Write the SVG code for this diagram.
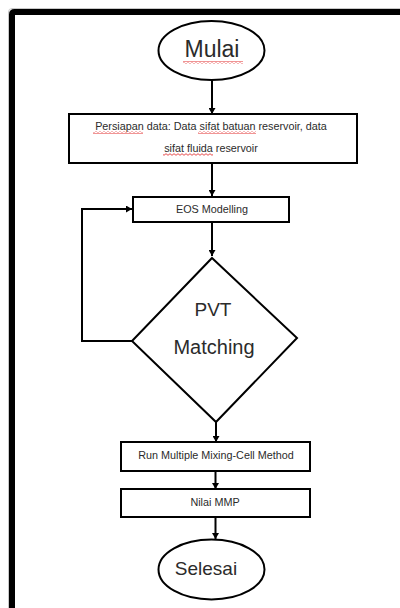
<svg xmlns="http://www.w3.org/2000/svg" width="400" height="608" viewBox="0 0 400 608">
<defs>
<style>
.shape{fill:#fff;stroke:#000;stroke-width:2}
.conn{fill:none;stroke:#000;stroke-width:2}
.big{font-family:"Liberation Sans",Arial,sans-serif;fill:#2b2b2b;text-anchor:middle}
.small{font-family:"Liberation Sans",Arial,sans-serif;font-size:10.8px;fill:#2b2b2b;text-anchor:middle}
</style>
<marker id="ah" markerUnits="userSpaceOnUse" markerWidth="7" markerHeight="7" refX="6" refY="3.5" orient="auto">
<path d="M0,0 L6,3.5 L0,7 z" fill="#000"/>
</marker>
<pattern id="wave" patternUnits="userSpaceOnUse" width="4" height="3">
<path d="M0,2.3 L2,0.7 L4,2.3" fill="none" stroke="#e02020" stroke-width="0.8"/>
</pattern>
</defs>
<rect width="400" height="608" fill="#fff"/>
<g id="frame">
<path d="M8.5,608 V12 Q8.5,8.5 12,8.5 H400" fill="none" stroke="#c8c8c8" stroke-width="1"/>
<path d="M12,608 V14.5 Q12,12 14.5,12 H400" fill="none" stroke="#000" stroke-width="6"/>
</g>
<g id="connectors">
<line class="conn" x1="212" y1="80" x2="212" y2="114" marker-end="url(#ah)"/>
<line class="conn" x1="212" y1="163" x2="212" y2="196" marker-end="url(#ah)"/>
<line class="conn" x1="212" y1="222" x2="212" y2="256" marker-end="url(#ah)"/>
<path class="conn" d="M132,341 H82 V209 H132" marker-end="url(#ah)"/>
<line class="conn" x1="216" y1="422" x2="216" y2="442" marker-end="url(#ah)"/>
<line class="conn" x1="215.5" y1="471" x2="215.5" y2="489" marker-end="url(#ah)"/>
<line class="conn" x1="215.5" y1="517" x2="215.5" y2="539" marker-end="url(#ah)"/>
</g>
<g id="mulai">
<ellipse class="shape" cx="211.5" cy="50.5" rx="53" ry="29.5"/>
<text class="big" x="212" y="56.5" font-size="23">Mulai</text>
<rect x="183" y="61" width="60" height="3" fill="url(#wave)"/>
</g>
<g id="persiapan">
<rect class="shape" x="69" y="114" width="288" height="49"/>
<text class="small" x="211" y="129.5">Persiapan data: Data sifat batuan reservoir, data</text>
<text class="small" x="211" y="151.5">sifat fluida reservoir</text>
<rect x="93" y="131" width="50" height="3" fill="url(#wave)"/>
<rect x="198" y="131" width="58" height="3" fill="url(#wave)"/>
<rect x="163" y="153" width="50" height="3" fill="url(#wave)"/>
</g>
<g id="eos">
<rect class="shape" x="133" y="197" width="156" height="25"/>
<text class="small" x="212" y="212.5">EOS Modelling</text>
</g>
<g id="pvt">
<path class="shape" d="M212,258 L297,338 L216,422 L132,341 Z"/>
<text class="big" x="213" y="315.5" font-size="19">PVT</text>
<text class="big" x="214" y="353.5" font-size="20">Matching</text>
</g>
<g id="run">
<rect class="shape" x="121" y="442" width="189" height="29"/>
<text class="small" x="216" y="458.5">Run Multiple Mixing-Cell Method</text>
</g>
<g id="nilai">
<rect class="shape" x="121" y="489" width="189" height="28"/>
<text class="small" x="215" y="505.5">Nilai MMP</text>
</g>
<g id="selesai">
<ellipse class="shape" cx="211.5" cy="569.5" rx="53" ry="30"/>
<text class="big" x="206" y="574.5" font-size="19">Selesai</text>
</g>
</svg>
